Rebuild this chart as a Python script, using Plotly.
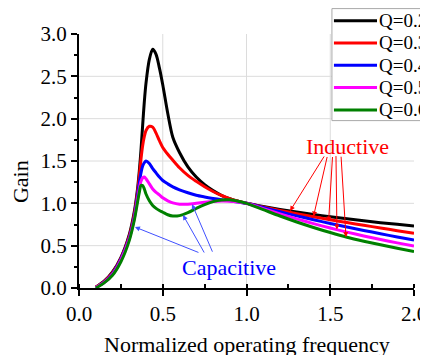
import plotly.graph_objects as go

fn = [0.10, 0.15, 0.20, 0.25, 0.30, 0.33, 0.35, 0.36, 0.37, 0.38, 0.39, 0.40,
      0.42, 0.44, 0.46, 0.48, 0.50, 0.53, 0.56, 0.60, 0.65, 0.70, 0.75, 0.80,
      0.85, 0.90, 0.95, 1.00, 1.10, 1.20, 1.30, 1.40, 1.50, 1.60, 1.70, 1.80,
      1.90, 2.00]

gain_q02 = [0.01, 0.08, 0.19, 0.36, 0.63, 0.90, 1.18, 1.38, 1.63, 1.92, 2.20, 2.42,
            2.70, 2.82, 2.76, 2.60, 2.40, 2.06, 1.78, 1.60, 1.43, 1.31, 1.22, 1.15,
            1.095, 1.055, 1.025, 1.00, 0.962, 0.928, 0.897, 0.868, 0.842, 0.817, 0.794, 0.772,
            0.752, 0.732]
gain_q03 = [0.01, 0.075, 0.18, 0.35, 0.61, 0.87, 1.14, 1.32, 1.52, 1.68, 1.79, 1.86,
            1.91, 1.90, 1.83, 1.74, 1.66, 1.58, 1.51, 1.42, 1.33, 1.26, 1.195, 1.14,
            1.095, 1.055, 1.025, 1.00, 0.958, 0.917, 0.878, 0.841, 0.806, 0.773, 0.741, 0.709,
            0.677, 0.646]
gain_q04 = [0.005, 0.07, 0.17, 0.34, 0.59, 0.84, 1.10, 1.24, 1.36, 1.44, 1.48, 1.50,
            1.47, 1.41, 1.36, 1.31, 1.27, 1.23, 1.195, 1.16, 1.125, 1.095, 1.075, 1.058,
            1.043, 1.03, 1.015, 1.00, 0.95, 0.90, 0.852, 0.806, 0.762, 0.72, 0.68, 0.641,
            0.603, 0.567]
gain_q05 = [0.005, 0.065, 0.16, 0.33, 0.58, 0.82, 1.06, 1.17, 1.26, 1.30, 1.31, 1.29,
            1.23, 1.17, 1.13, 1.10, 1.065, 1.03, 1.005, 0.99, 0.99, 1.00, 1.012, 1.022,
            1.027, 1.025, 1.015, 1.00, 0.938, 0.876, 0.816, 0.76, 0.708, 0.66, 0.615, 0.573,
            0.533, 0.495]
gain_q06 = [0.0, 0.06, 0.15, 0.31, 0.56, 0.80, 1.02, 1.13, 1.21, 1.21, 1.17, 1.11,
            1.03, 0.975, 0.94, 0.915, 0.895, 0.865, 0.85, 0.855, 0.89, 0.94, 0.985, 1.02,
            1.04, 1.042, 1.025, 1.00, 0.925, 0.85, 0.78, 0.715, 0.655, 0.60, 0.553, 0.51,
            0.47, 0.432]

series_names = ["Q=0.2", "Q=0.3", "Q=0.4", "Q=0.5", "Q=0.6"]
series_vals = [gain_q02, gain_q03, gain_q04, gain_q05, gain_q06]
colors = ["#000000", "#ff0000", "#0000ff", "#ff00ff", "#008000"]

x_ticks = [0.0, 0.5, 1.0, 1.5, 2.0]
x_ticktext = ["0.0", "0.5", "1.0", "1.5", "2.0"]
y_ticks = [0.0, 0.5, 1.0, 1.5, 2.0, 2.5, 3.0]
y_ticktext = ["0.0", "0.5", "1.0", "1.5", "2.0", "2.5", "3.0"]

# annotation arrow targets (points on curves)
ind_tips_x = [1.26, 1.40, 1.49, 1.54, 1.594]
ind_tips_y = [0.91, 0.845, 0.785, 0.69, 0.60]
ind_tail_dx = [35, 14, 4, -1, -5]
ind_tail_dy = [-56, -61, -66, -75, -82]
cap_tips_x = [0.334, 0.621, 0.675]
cap_tips_y = [0.72, 0.862, 0.99]
cap_tail_dx = [65, 22, 21]
cap_tail_dy = [26, 39, 49]

FONT = "Liberation Serif, Times New Roman, serif"

fig = go.Figure()
for name, vals, col in zip(series_names, series_vals, colors):
    fig.add_trace(go.Scatter(x=fn, y=vals, mode="lines", name=name, showlegend=False,
                             line=dict(color=col, width=3, shape="spline", smoothing=0.8)))

shapes = []
for xv in x_ticks[1:-1]:
    shapes.append(dict(type="line", xref="x", yref="y", x0=xv, x1=xv,
                       y0=y_ticks[0], y1=y_ticks[-1],
                       line=dict(color="#dcdcdc", width=1), layer="below"))
for yv in y_ticks[1:-1]:
    shapes.append(dict(type="line", xref="x", yref="y", y0=yv, y1=yv,
                       x0=x_ticks[0], x1=x_ticks[-1],
                       line=dict(color="#dcdcdc", width=1), layer="below"))

annotations = []

# legend box (drawn manually so entry spacing matches the original)
leg_x0, leg_x1 = 0.755, 1.06
leg_top, leg_bottom = 1.100, 0.659
leg_first, leg_step = 1.0524, 0.0878
leg_line_x0, leg_line_x1, leg_text_x = 0.761, 0.8896, 0.8896
shapes.append(dict(type="rect", xref="paper", yref="paper", x0=leg_x0, x1=leg_x1,
                   y0=leg_bottom, y1=leg_top, fillcolor="white",
                   line=dict(color="#a8a8a8", width=1), layer="above"))
for i, (name, col) in enumerate(zip(series_names, colors)):
    yy = leg_first - i * leg_step
    shapes.append(dict(type="line", xref="paper", yref="paper", x0=leg_line_x0,
                       x1=leg_line_x1, y0=yy, y1=yy, line=dict(color=col, width=3),
                       layer="above"))
    annotations.append(dict(x=leg_text_x, y=yy, xref="paper", yref="paper", text=name,
                            showarrow=False, xanchor="left", yanchor="middle",
                            font=dict(family=FONT, size=19, color="#000000")))

annotations.append(dict(x=1.603, y=1.677, xref="x", yref="y", text="Inductive",
                        showarrow=False, xanchor="center", yanchor="middle",
                        font=dict(family=FONT, size=22, color="#ff0000")))
for tx, ty, dx, dy in zip(ind_tips_x, ind_tips_y, ind_tail_dx, ind_tail_dy):
    annotations.append(dict(x=tx, y=ty, xref="x", yref="y", ax=dx, ay=dy, text="",
                            showarrow=True, arrowhead=2, arrowsize=1, arrowwidth=1,
                            arrowcolor="#ff0000", standoff=0))
annotations.append(dict(x=0.896, y=0.248, xref="x", yref="y", text="Capacitive",
                        showarrow=False, xanchor="center", yanchor="middle",
                        font=dict(family=FONT, size=22, color="#0000ff")))
for tx, ty, dx, dy in zip(cap_tips_x, cap_tips_y, cap_tail_dx, cap_tail_dy):
    annotations.append(dict(x=tx, y=ty, xref="x", yref="y", ax=dx, ay=dy, text="",
                            showarrow=True, arrowhead=2, arrowsize=1, arrowwidth=1,
                            arrowcolor="#4050ff", standoff=0))
annotations.append(dict(x=0.5, y=-0.224, xref="paper", yref="paper",
                        xanchor="center", yanchor="middle",
                        text="Normalized operating frequency", showarrow=False,
                        font=dict(family=FONT, size=22, color="#000000")))
annotations.append(dict(x=-0.176, y=0.417, xref="paper", yref="paper",
                        xanchor="center", yanchor="middle",
                        text="Gain", showarrow=False, textangle=-90,
                        font=dict(family=FONT, size=22, color="#000000")))

# page body has an 8px margin, so the figure is offset by 8px
fig.update_layout(
    width=420, height=347,
    margin=dict(l=71, r=14, t=26, b=67, autoexpand=False),
    paper_bgcolor="white", plot_bgcolor="white",
    font=dict(family=FONT, size=21, color="#000000"),
    showlegend=False,
    shapes=shapes, annotations=annotations,
    xaxis=dict(range=[x_ticks[0], x_ticks[-1]], tickvals=x_ticks, ticktext=x_ticktext,
               showgrid=False, zeroline=False, showline=True, linecolor="black",
               linewidth=2, ticks="outside", ticklen=6, tickwidth=2, tickcolor="black",
               tickfont=dict(family=FONT, size=21),
               minor=dict(dtick=0.25, tick0=0, ticks="inside", ticklen=4,
                          tickwidth=1.5, tickcolor="black", showgrid=False)),
    yaxis=dict(range=[y_ticks[0], y_ticks[-1]], tickvals=y_ticks, ticktext=y_ticktext,
               showgrid=False, zeroline=False, showline=True, linecolor="black",
               linewidth=2, ticks="outside", ticklen=6, tickwidth=2, tickcolor="black",
               tickfont=dict(family=FONT, size=21),
               minor=dict(dtick=0.25, tick0=0, ticks="outside", ticklen=3,
                          tickwidth=1.5, tickcolor="black", showgrid=False)),
)

fig.write_html("out.html")
